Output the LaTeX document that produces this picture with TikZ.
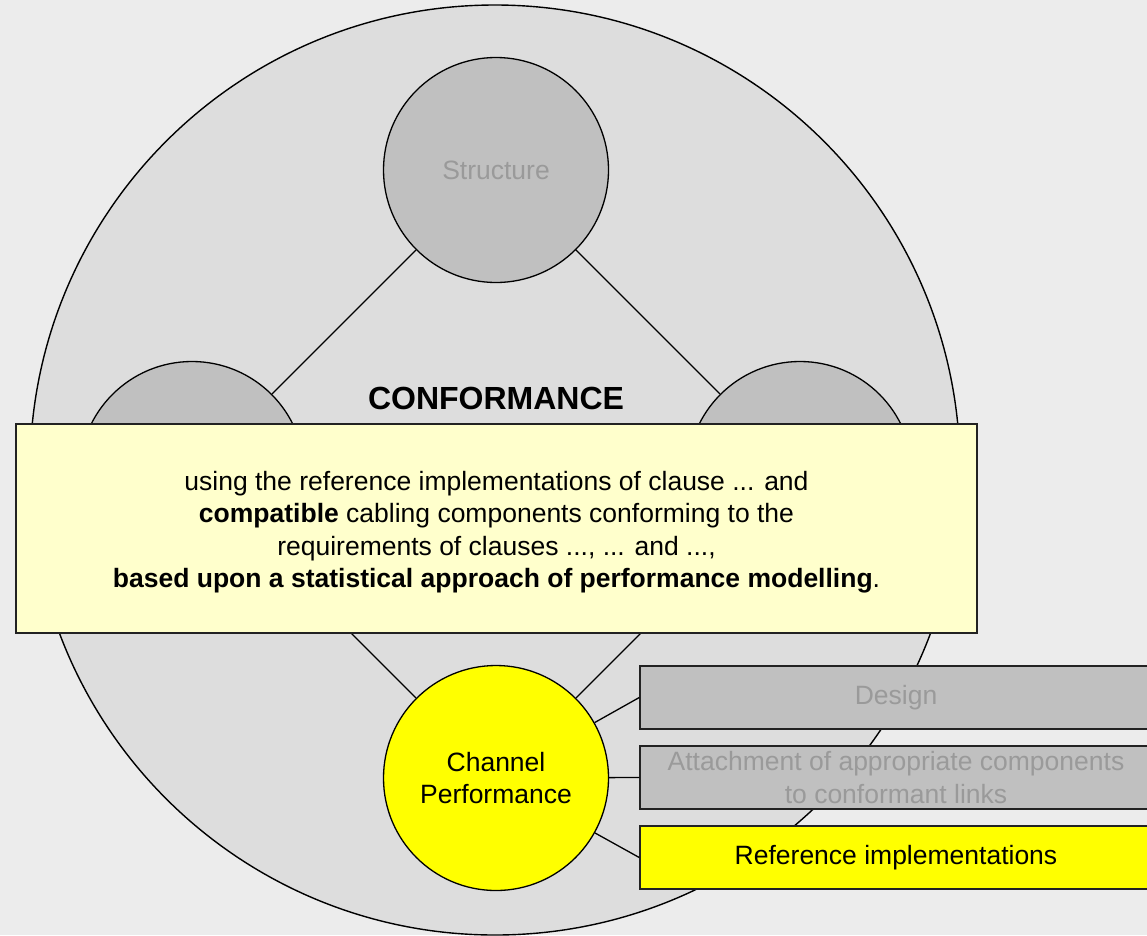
\documentclass[tikz,border=0pt]{standalone}
\usepackage{fontspec}
\setmainfont{Liberation Sans}
\definecolor{bgc}{HTML}{ECECEC}
\definecolor{outerc}{HTML}{DDDDDD}
\definecolor{grayc}{HTML}{C0C0C0}
\definecolor{graytext}{HTML}{9A9A9A}
\definecolor{lightyel}{HTML}{FFFFCC}
\definecolor{yel}{HTML}{FFFF00}
\definecolor{edgec}{HTML}{222222}
\begin{document}
\begin{tikzpicture}[x=1pt,y=-1pt,
  txt/.style={font=\fontsize{26.5}{32.5}\selectfont, align=center},
  bigcirc/.style={circle, draw=black, line width=1.4pt, fill=outerc, minimum size=930pt, inner sep=0pt},
  smallcirc/.style={circle, draw=black, line width=1.3pt, fill=grayc, minimum size=225pt, inner sep=0pt, txt, text=graytext},
  yelcirc/.style={smallcirc, fill=yel, text=black},
  conn/.style={draw=black, line width=1.3pt},
  mainbox/.style={rectangle, draw=edgec, line width=1.5pt, fill=lightyel, minimum width=961pt, minimum height=209pt, inner sep=0pt},
  sidebox/.style={rectangle, draw=edgec, line width=1.5pt, fill=grayc, minimum width=512pt, minimum height=63pt, inner sep=0pt, txt, text=graytext},
  yelbox/.style={sidebox, fill=yel, text=black}
]
\useasboundingbox[fill=bgc] (0,0) rectangle (1147,935);
\node[bigcirc] (outer) at (495,470) {};
\node[smallcirc] (S) at (496,170) {Structure};
\node[smallcirc] (L) at (192,474) {};
\node[smallcirc] (R) at (800,474) {};
\node[yelcirc] (CP) at (496,778) {Channel\\Performance};
\draw[conn] (S) -- (L);
\draw[conn] (S) -- (R);
\draw[conn] (L) -- (CP);
\draw[conn] (R) -- (CP);
\node[txt, font=\fontsize{32}{38}\selectfont\bfseries] (conf) at (496,398) {CONFORMANCE};
\node[mainbox] (box) at (496.5,528.5) {};
\node[txt] (boxtext) at (496.5,532) {using the reference implementations of clause ... and\\
\textbf{compatible} cabling components conforming to the\\
requirements of clauses ..., ... and ...,\\
\textbf{based upon a statistical approach of performance modelling}.};
\node[sidebox] (design) at (896,697.5) {\raisebox{-2pt}{Design}};
\node[sidebox] (attach) at (896,777.5) {Attachment of appropriate components\\to conformant links};
\node[yelbox] (refimp) at (896,857.5) {\raisebox{-2pt}{Reference implementations}};
\draw[conn] (CP) -- (design.west);
\draw[conn] (CP) -- (attach.west);
\draw[conn] (CP) -- (refimp.west);
\end{tikzpicture}
\end{document}
